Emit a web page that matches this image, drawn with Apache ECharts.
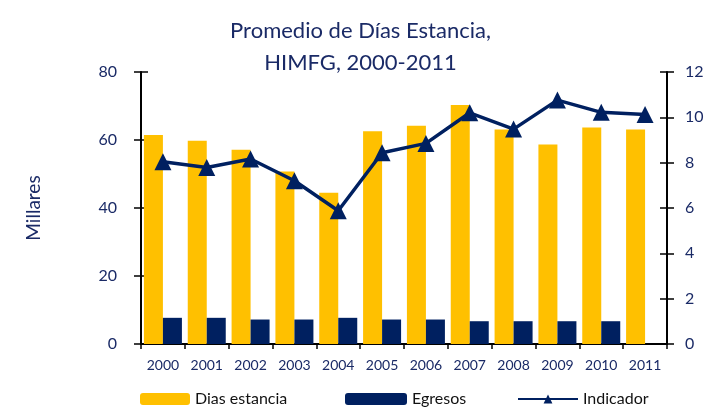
<!DOCTYPE html>
<html>
<head>
<meta charset="utf-8">
<script src="https://cdn.jsdelivr.net/npm/echarts@6/dist/echarts.min.js"></script>
<style>
  html, body { margin: 0; padding: 0; background: #fff; }
  #chart { width: 721px; height: 412px; }
</style>
</head>
<body>
<div id="chart"></div>
<script>
var years = ['2000', '2001', '2002', '2003', '2004', '2005', '2006', '2007', '2008', '2009', '2010', '2011'];
var diasEstancia = [61.5, 59.8, 57.1, 50.7, 44.5, 62.6, 64.2, 70.3, 63.1, 58.7, 63.7, 63.1];
var egresos = [7.7, 7.7, 7.2, 7.2, 7.7, 7.2, 7.2, 6.7, 6.7, 6.7, 6.7, null];
var indicador = [8.04, 7.79, 8.16, 7.2, 5.88, 8.44, 8.85, 10.2, 9.48, 10.76, 10.22, 10.13];

var navy = '#002060';
var yellow = '#FFC000';
var txt = '#1a2a66';
var font = 'Lato';

// eje y sin etiquetas solo para las marcas hacia dentro
function innerTicks(pos, max, interval) {
  return {
    type: 'value', position: pos, min: 0, max: max, interval: interval,
    axisLine: { show: false },
    axisTick: { show: true, inside: true, length: 7, lineStyle: { color: '#000', width: 1.5 } },
    axisLabel: { show: false },
    splitLine: { show: false }
  };
}

var option = {
  backgroundColor: '#fff',
  title: {
    text: 'Promedio de Días Estancia,\nHIMFG, 2000-2011',
    left: 'center',
    top: 10,
    textStyle: { color: txt, fontFamily: font, fontSize: 22, fontWeight: 'normal', lineHeight: 32 }
  },
  legend: [
    { left: 135, bottom: 0, itemWidth: 50, itemHeight: 12, data: ['Dias estancia'],
      textStyle: { color: '#111', fontFamily: font, fontSize: 16 } },
    { left: 340, bottom: 0, itemWidth: 62, itemHeight: 12, data: ['Egresos'],
      textStyle: { color: '#111', fontFamily: font, fontSize: 16 } },
    { left: 512, bottom: 0, itemWidth: 60, itemHeight: 11, data: ['Indicador'],
      textStyle: { color: '#111', fontFamily: font, fontSize: 16 } }
  ],
  grid: { left: 141, right: 54, top: 72, bottom: 68 },
  xAxis: {
    type: 'category',
    data: years,
    axisLine: { lineStyle: { color: '#000', width: 2 } },
    axisTick: { show: true, length: 5, lineStyle: { color: '#000', width: 1.5 } },
    axisLabel: { color: txt, fontFamily: font, fontSize: 14, margin: 14, interval: 0 }
  },
  yAxis: [
    {
      type: 'value', position: 'left', min: 0, max: 80, interval: 20,
      name: 'Millares', nameLocation: 'middle', nameRotate: 90, nameGap: 98,
      nameTextStyle: { color: txt, fontFamily: font, fontSize: 19 },
      axisLine: { show: true, lineStyle: { color: '#000', width: 2 } },
      axisTick: { show: true, length: 7, lineStyle: { color: '#000', width: 1.5 } },
      axisLabel: { color: txt, fontFamily: font, fontSize: 16, margin: 24 },
      splitLine: { show: false }
    },
    {
      type: 'value', position: 'right', min: 0, max: 12, interval: 2,
      axisLine: { show: true, lineStyle: { color: '#000', width: 2 } },
      axisTick: { show: true, length: 7, lineStyle: { color: '#000', width: 1.5 } },
      axisLabel: { color: txt, fontFamily: font, fontSize: 16, margin: 18 },
      splitLine: { show: false }
    },
    innerTicks('left', 80, 20),
    innerTicks('right', 12, 2)
  ],
  series: [
    {
      name: 'Dias estancia', type: 'bar', data: diasEstancia, yAxisIndex: 0,
      barWidth: 19, barGap: '0%',
      itemStyle: { color: yellow }
    },
    {
      name: 'Egresos', type: 'bar', data: egresos, yAxisIndex: 0,
      barWidth: 19,
      itemStyle: { color: navy }
    },
    {
      name: 'Indicador', type: 'line', data: indicador, yAxisIndex: 1,
      symbol: 'triangle', symbolSize: 17,
      lineStyle: { color: navy, width: 3.5 },
      itemStyle: { color: navy }
    }
  ]
};

var myChart = echarts.init(document.getElementById('chart'));
myChart.setOption(option);
</script>
</body>
</html>
